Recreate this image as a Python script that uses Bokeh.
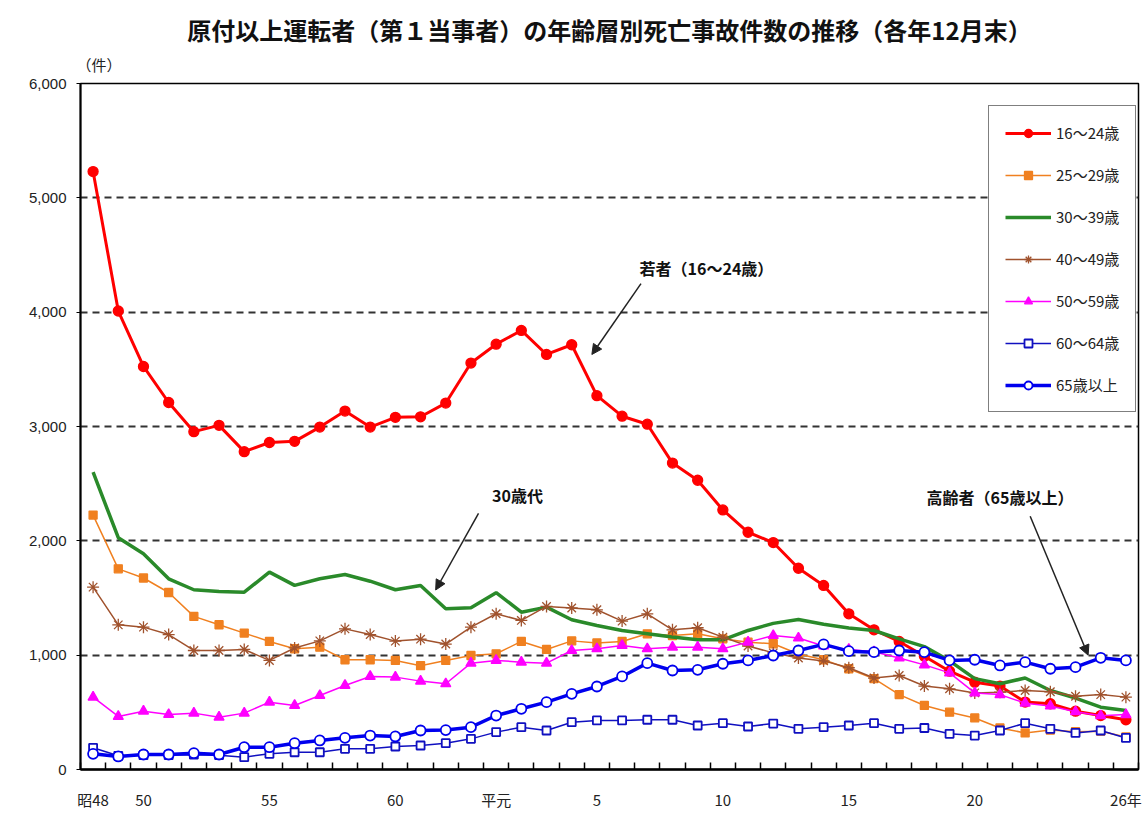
from bokeh.plotting import figure
from bokeh.models import (ColumnDataSource, FixedTicker, Legend, LegendItem, Label,
                          Arrow, NormalHead, NumeralTickFormatter, Range1d, Title)
from bokeh.embed import file_html
from bokeh.resources import INLINE

# ---------------- data ----------------
years = [1973, 1974, 1975, 1976, 1977, 1978, 1979, 1980, 1981, 1982,
         1983, 1984, 1985, 1986, 1987, 1988, 1989, 1990, 1991, 1992,
         1993, 1994, 1995, 1996, 1997, 1998, 1999, 2000, 2001, 2002,
         2003, 2004, 2005, 2006, 2007, 2008, 2009, 2010, 2011, 2012,
         2013, 2014]

age_16_24 = [5230, 4010, 3525, 3210, 2955, 3010, 2780, 2860, 2870, 2995,
             3135, 2995, 3080, 3085, 3205, 3555, 3720, 3840, 3630, 3715,
             3270, 3090, 3020, 2680, 2530, 2270, 2075, 1985, 1760, 1610,
             1362, 1222, 1120, 990, 860, 764, 730, 590, 575, 510,
             472, 435]
age_25_29 = [2225, 1755, 1675, 1548, 1339, 1266, 1193, 1120, 1056, 1070,
             960, 960, 954, 908, 954, 997, 1012, 1120, 1050, 1125,
             1107, 1120, 1187, 1172, 1187, 1143, 1114, 1100, 1010, 960,
             881, 794, 655, 560, 501, 451, 363, 320, 345, 330,
             335, 285]
age_30_39 = [2600, 2027, 1887, 1668, 1572, 1557, 1551, 1726, 1610, 1668,
             1706, 1647, 1572, 1610, 1406, 1415, 1547, 1376, 1420, 1310,
             1260, 1216, 1187, 1158, 1134, 1134, 1216, 1278, 1312, 1270,
             1238, 1216, 1143, 1075, 950, 795, 750, 800, 691, 625,
             545, 516]
age_40_49 = [1595, 1265, 1245, 1180, 1041, 1041, 1050, 954, 1063, 1125,
             1230, 1180, 1123, 1140, 1097, 1245, 1362, 1304, 1426, 1413,
             1397, 1298, 1362, 1222, 1240, 1158, 1080, 1020, 975, 950,
             890, 800, 822, 730, 706, 670, 676, 691, 680, 640,
             655, 633]
age_50_59 = [633, 464, 510, 481, 493, 458, 493, 589, 560, 647,
             735, 814, 808, 773, 750, 930, 954, 939, 930, 1041,
             1056, 1085, 1056, 1070, 1070, 1056, 1114, 1172, 1150, 1080,
             1050, 1030, 975, 915, 845, 670, 655, 580, 555, 505,
             470, 480]
age_60_64 = [190, 120, 125, 125, 130, 125, 108, 137, 151, 151,
             181, 181, 201, 210, 230, 268, 327, 370, 341, 414,
             429, 429, 435, 435, 385, 405, 376, 402, 356, 370,
             385, 405, 356, 363, 312, 297, 341, 405, 356, 320,
             341, 276]
age_65_up = [137, 114, 131, 131, 143, 131, 195, 195, 230, 254,
             277, 297, 289, 341, 345, 370, 472, 531, 589, 662,
             726, 814, 930, 866, 872, 925, 954, 997, 1041, 1094,
             1035, 1026, 1041, 1026, 954, 960, 910, 939, 881, 895,
             977, 954]

series_names = ["16～24歳", "25～29歳", "30～39歳", "40～49歳",
                "50～59歳", "60～64歳", "65歳以上"]

tick_years = [1973, 1975, 1980, 1985, 1989, 1993, 1998, 2003, 2008, 2014]
tick_labels = ["昭48", "50", "55", "60", "平元", "5", "10", "15", "20", "26年"]
y_ticks = [0, 1000, 2000, 3000, 4000, 5000, 6000]

TITLE = "原付以上運転者（第１当事者）の年齢層別死亡事故件数の推移（各年12月末）"
UNIT = "（件）"

# annotation texts and their positions (data coordinates)
notes = ["若者（16～24歳）", "30歳代", "高齢者（65歳以上）"]
note_x = [1997.35, 1989.85, 2009.0]
note_y = [4385, 2400, 2380]
arrow_x0 = [1994.75, 1988.3, 2010.2]
arrow_y0 = [4250, 2240, 2215]
arrow_x1 = [1992.8, 1986.6, 2012.5]
arrow_y1 = [3630, 1570, 1000]

# ---------------- figure ----------------
CJK = "Noto Sans CJK JP"
NUM = "Liberation Sans"

p = figure(width=1142, height=820, output_backend="svg", toolbar_location=None,
           x_range=Range1d(1972.5, 2014.5), y_range=Range1d(0, 6000),
           min_border_left=80, min_border_right=4, min_border_top=83,
           min_border_bottom=51, background_fill_color="white",
           border_fill_color="white")

# unit label just above the frame, left aligned
p.add_layout(Title(text=UNIT, align="left", offset=-4, text_font=CJK,
                   text_font_size="15px", text_font_style="normal",
                   text_color="#222222", standoff=18), "above")

p.title.text = TITLE
p.title.align = "center"
p.title.text_font = CJK
p.title.text_font_size = "24px"
p.title.text_font_style = "bold"
p.title.text_color = "#111111"
p.title.standoff = -8

p.outline_line_color = "black"
p.outline_line_width = 1.5

p.xgrid.visible = False
p.ygrid.ticker = FixedTicker(ticks=y_ticks[1:])
p.ygrid.grid_line_color = "#333333"
p.ygrid.grid_line_dash = "7 5"
p.ygrid.grid_line_width = 2

p.yaxis.ticker = FixedTicker(ticks=y_ticks)
p.yaxis.formatter = NumeralTickFormatter(format="0,0")
p.yaxis.major_tick_out = 4
p.yaxis.major_tick_in = 0
p.yaxis.minor_tick_line_color = None
p.yaxis.axis_line_width = 2
p.yaxis.major_label_text_font = NUM
p.yaxis.major_label_text_font_size = "15px"
p.yaxis.major_label_text_color = "#222222"
p.yaxis.major_label_standoff = 10

minor = [1972.5 + i for i in range(len(years) + 1)]
p.xaxis.ticker = FixedTicker(ticks=tick_years, minor_ticks=minor)
p.xaxis.major_label_overrides = {y: l for y, l in zip(tick_years, tick_labels)}
p.xaxis.major_tick_in = 0
p.xaxis.major_tick_out = 0
p.xaxis.minor_tick_in = 7
p.xaxis.minor_tick_out = 0
p.xaxis.minor_tick_line_width = 1.5
p.xaxis.axis_line_width = 2.5
p.xaxis.major_label_text_font = CJK
p.xaxis.major_label_text_font_size = "15px"
p.xaxis.major_label_text_color = "#222222"
p.xaxis.major_label_standoff = 19

src = ColumnDataSource(dict(year=years, a=age_16_24, b=age_25_29, c=age_30_39,
                            d=age_40_49, e=age_50_59, f=age_60_64, g=age_65_up))

styles = [
    ("a", "#FF0000", 3.0, "circle", 10, "#FF0000"),
    ("b", "#F08020", 1.5, "square", 8, "#F08020"),
    ("c", "#2A8A2A", 3.5, None, 0, None),
    ("d", "#A0522D", 1.5, "asterisk", 12, "#A0522D"),
    ("e", "#FF00FF", 1.5, "triangle", 10, "#FF00FF"),
    ("f", "#1010C0", 1.5, "square", 8, "white"),
    ("g", "#0000EE", 3.5, "circle", 10, "white"),
]

items = []
for name, (col, color, lw, marker, size, fill) in zip(series_names, styles):
    rends = [p.line("year", col, source=src, line_color=color, line_width=lw)]
    if marker:
        rends.append(p.scatter("year", col, source=src, marker=marker, size=size,
                               line_color=color, fill_color=fill,
                               line_width=1.8 if fill == "white" else 1.3))
    items.append(LegendItem(label=name, renderers=rends))

legend = Legend(items=items, location=(908, 357), orientation="vertical")
legend.label_text_font = CJK
legend.label_text_font_size = "15px"
legend.label_text_color = "#222222"
legend.glyph_width = 46
legend.glyph_height = 20
legend.label_height = 20
legend.spacing = 21
legend.padding = 16
legend.margin = 0
legend.label_standoff = 5
legend.border_line_color = "black"
legend.border_line_width = 1.5
legend.background_fill_color = "white"
legend.background_fill_alpha = 1.0
p.add_layout(legend)

for t, x, y in zip(notes, note_x, note_y):
    p.add_layout(Label(x=x, y=y, text=t, text_font=CJK, text_font_size="16px",
                       text_font_style="bold", text_align="center",
                       text_baseline="middle", text_color="#111111"))

for x0, y0, x1, y1 in zip(arrow_x0, arrow_y0, arrow_x1, arrow_y1):
    p.add_layout(Arrow(end=NormalHead(size=10, fill_color="#222222",
                                      line_color="#222222"),
                       x_start=x0, y_start=y0, x_end=x1, y_end=y1,
                       line_color="#222222", line_width=1.5))

open("out.html", "w").write(file_html(p, INLINE))
